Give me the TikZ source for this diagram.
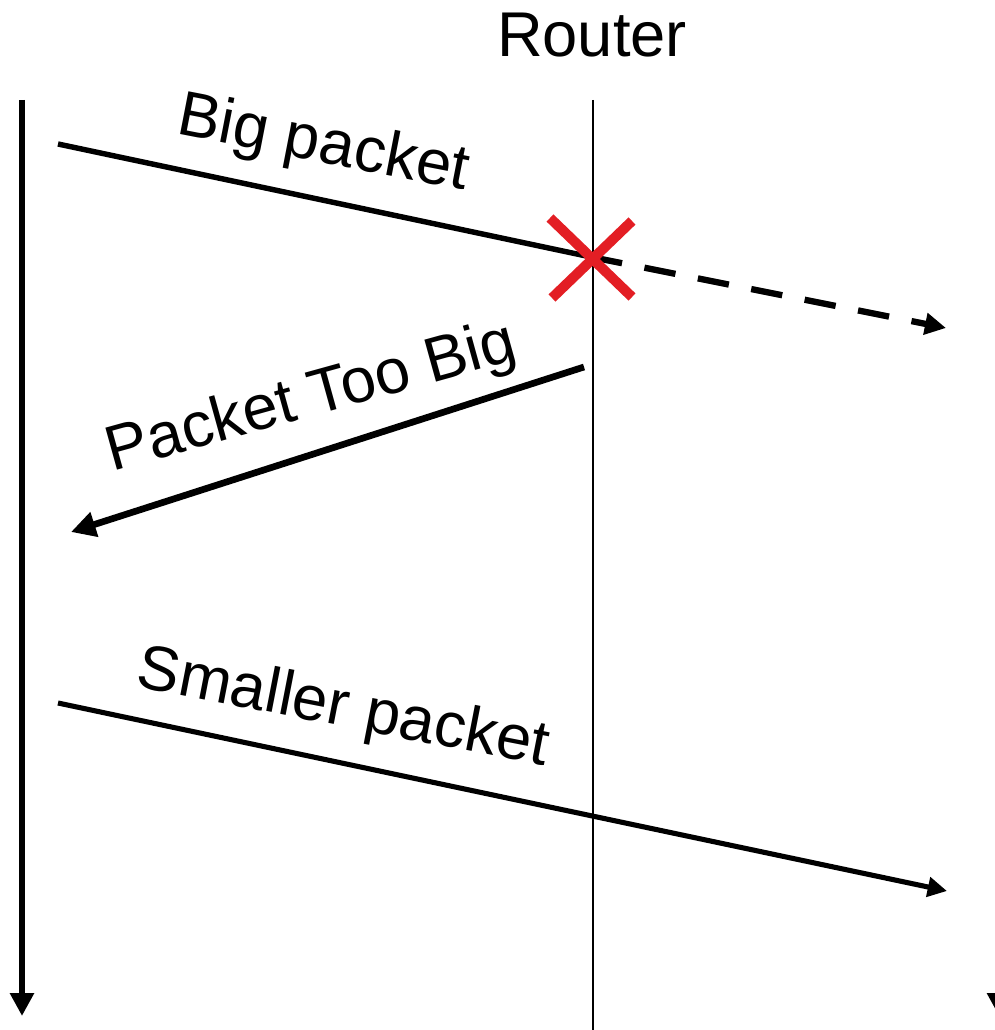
\documentclass[tikz,border=0pt]{standalone}
\usepackage{fontspec}
\setmainfont{Liberation Sans}
\usepackage{tikz}
\usetikzlibrary{arrows.meta,positioning}
\definecolor{xred}{RGB}{227,30,36}
\tikzset{
  timeline/.style={line width=3.6pt, -{Triangle[length=13pt,width=13pt]}},
  router/.style={line width=0.9pt},
  msg/.style={line width=2.9pt, -{Triangle[length=11pt,width=11pt]}},
  reply/.style={line width=3.8pt, -{Triangle[length=14pt,width=14pt]}},
  lost/.style={line width=3.6pt, dash pattern=on 18pt off 13pt, -{Triangle[length=12pt,width=12pt]}},
  lbl/.style={inner sep=0pt, anchor=base, font=\fontsize{36}{43}\selectfont},
  cross/.style={draw=xred, line width=5.7pt}
}

\begin{document}
\begin{tikzpicture}[x=0.02cm, y=-0.02cm]
    \useasboundingbox (0,0) rectangle (994,1030);
    % time lines and router
    \coordinate (srctop) at (22,100);
    \coordinate (srcbot) at (22,1016);
    \coordinate (dsttop) at (999,100);
    \coordinate (dstbot) at (999,1016);
    \coordinate (rtrtop) at (593,100);
    \coordinate (rtrbot) at (593,1030);
    \draw[timeline] (srctop) -- (srcbot);
    \draw[timeline] (dsttop) -- (dstbot);
    \draw[router] (rtrtop) -- (rtrbot);
    \node[lbl] (rtrname) at (592,57) {Router};

    % first packet, dropped at the router
    \coordinate (bigstart) at (58,144);
    \coordinate (drop) at (591,257);
    \coordinate (bigend) at (946,328);
    \draw[line width=3.1pt] (bigstart) -- (drop);
    \draw[lost] (drop) -- (bigend);
    \node[lbl, rotate=-11] (biglbl) at (320,162) {Big packet};
    \draw[cross] (drop) ++(-41,-39) coordinate (xa) -- ++(82,79) coordinate (xb);
    \draw[cross] (drop) ++(41,-36) coordinate (xc) -- ++(-80,77) coordinate (xd);

    % error message back to the sender
    \coordinate (ptbstart) at (584,367);
    \coordinate (ptbend) at (71,532);
    \draw[reply] (ptbstart) -- (ptbend);
    \node[lbl, rotate=15.5] (ptblbl) at (316,415) {Packet Too Big};

    % retry with a smaller packet
    \coordinate (smallstart) at (58,703);
    \coordinate (smallend) at (947,891);
    \draw[msg] (smallstart) -- (smallend);
    \node[lbl, rotate=-11] (smalllbl) at (340,726) {Smaller packet};
\end{tikzpicture}
\end{document}
